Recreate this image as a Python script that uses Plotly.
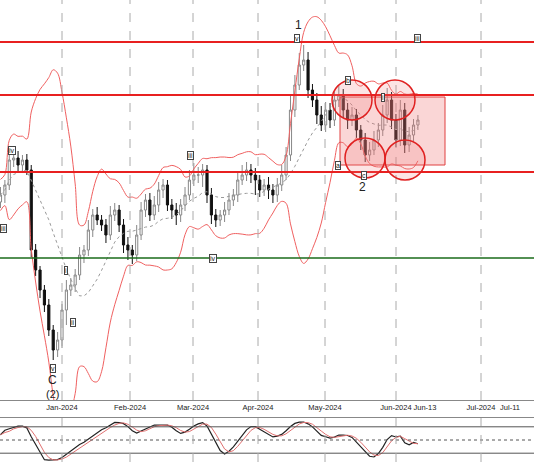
import plotly.graph_objects as go
from plotly.subplots import make_subplots
import pandas as pd
import numpy as np

start = "2023-12-04"
closes = [120.5,121.5,124,124.2,123.5,124,123,115,113,111,109.5,107,105,106,109,111,111.5,112.5,114.5,115,117,118.5,118,117.5,116.5,118.5,119,117.5,115.5,115,114.5,116.5,119,120,118.5,119.5,121,121.5,119.5,119,118.5,119.5,120.5,122,122.5,122.5,123,120.5,118.5,118,118.5,119,120,120.5,122,122.5,123,122.5,122,121,121.5,121,120.5,121.5,122.5,124.5,129,131.5,133.5,134,131,130,128.5,127.5,129,128,130,130.5,129,128,128.5,127,126,124.5,125,126,127,128.5,130,128,126,129,125.5,126.5,127.5,128]
wick_hi = [0.8,0.5,1.0,0.6,0.7,0.5,0.6,0.5,0.6,0.4,0.5,0.6,0.5,0.8,0.6,1.0,0.7,0.6,0.8,0.5,1.0,0.6,0.8,0.5,0.6,0.9,0.7,0.5,0.6,0.8,0.5,1.0,0.8,0.6,0.7,0.9,0.8,0.6,0.5,0.6,0.7,0.6,0.8,1.0,1.2,0.8,0.6,0.5,0.7,0.6,0.5,0.8,0.7,0.6,0.9,1.0,0.8,0.6,0.7,0.5,0.6,0.8,0.6,0.7,1.0,0.8,1.5,1.0,1.2,1.5,0.8,0.6,0.7,0.9,0.8,0.7,0.8,0.9,0.6,0.7,0.8,0.6,0.5,0.7,0.8,0.9,0.7,1.0,1.2,0.8,0.6,1.0,0.7,0.8,0.6,0.5]
wick_lo = [0.6,0.8,0.5,0.7,0.6,0.8,0.5,0.7,0.6,0.8,0.7,0.6,1.0,0.7,0.8,1.5,0.6,0.7,0.5,0.8,0.6,0.7,0.5,0.6,0.8,0.5,0.6,0.7,0.8,1.0,0.9,0.6,0.5,0.7,0.6,0.5,0.7,0.8,0.6,0.9,1.0,0.7,0.6,0.5,0.6,0.8,1.2,0.8,0.9,0.7,0.6,0.7,0.5,0.6,0.7,0.5,0.6,0.8,1.5,0.7,0.6,0.9,0.8,0.7,0.6,0.5,0.6,0.7,0.5,0.6,0.8,0.7,0.9,0.6,0.7,0.8,0.6,0.7,0.8,0.9,0.6,0.8,1.0,0.7,0.6,0.5,0.7,0.6,0.8,0.9,0.7,0.6,0.8,0.7,0.6,0.5]
open0 = 119.8
levels_red = [135.8, 130.5, 122.8]
level_green = 114.2
tick_text = ["Dec-2023","Jan-2024","Feb-2024","Mar-2024","Apr-2024","May-2024","Jun-2024","Jun-13","Jul-2024","Jul-11"]
tick_px = [5, 62, 130, 193, 258, 325, 396, 425, 481, 510]

n = len(closes)
dates = pd.date_range(start, periods=n, freq="2D")
c = pd.Series(closes, index=dates)
o = c.shift(1).fillna(open0)
h = np.maximum(o, c) + np.array(wick_hi)
l = np.minimum(o, c) - np.array(wick_lo)
mid = c.rolling(12, min_periods=1).mean()
sd = c.rolling(12, min_periods=2).std().bfill()
up = mid + 2.2*sd
lo = mid - 2.2*sd
ll = l.rolling(16, min_periods=1).min(); hh = h.rolling(16, min_periods=1).max()
k = (100*(c-ll)/(hh-ll)).rolling(4, min_periods=1).mean()
d = k.rolling(3, min_periods=1).mean()

def dt(px):
    return pd.Timestamp("2024-01-01") + pd.Timedelta(days=(px-62)/2.197)
def py(y):
    return 140 - y/10

tick_vals = [dt(p) for p in tick_px]

fig = make_subplots(rows=2, cols=1, shared_xaxes=True)
fig.add_trace(go.Candlestick(x=dates, open=o, high=h, low=l, close=c,
    increasing=dict(line=dict(color="#888", width=1), fillcolor="white"),
    decreasing=dict(line=dict(color="#111", width=1), fillcolor="#111"), whiskerwidth=0), 1, 1)
fig.add_trace(go.Scatter(x=dates, y=up, mode="lines", line=dict(color="#f06060", width=1, shape="spline")), 1, 1)
fig.add_trace(go.Scatter(x=dates, y=lo, mode="lines", line=dict(color="#f06060", width=1, shape="spline")), 1, 1)
fig.add_trace(go.Scatter(x=dates, y=mid, mode="lines", line=dict(color="#999", width=1, dash="dot")), 1, 1)
fig.add_trace(go.Scatter(x=dates, y=k, mode="lines", line=dict(color="#222", width=1.2)), 2, 1)
fig.add_trace(go.Scatter(x=dates, y=d, mode="lines", line=dict(color="#e07070", width=1)), 2, 1)

for lv in levels_red:
    fig.add_hline(y=lv, line=dict(color="#e82020", width=2), row=1, col=1)
fig.add_hline(y=level_green, line=dict(color="#1a6b1a", width=1.5), row=1, col=1)
for lv, ds in [(80, "solid"), (50, "dot"), (20, "solid")]:
    fig.add_hline(y=lv, line=dict(color="#555", width=1, dash=ds), row=2, col=1)
for tv in tick_vals[1:7] + tick_vals[8:9]:
    fig.add_vline(x=tv, line=dict(color="#aaa", width=1, dash="dash"))

fig.add_shape(type="rect", x0=dt(340), x1=dt(445), y0=py(165), y1=py(97), fillcolor="rgba(240,120,120,0.3)",
              line=dict(color="#e04040", width=1), row=1, col=1)
for cx, cy in [(352, 100), (395, 100), (365, 158), (405, 160)]:
    fig.add_shape(type="circle", x0=dt(cx-20), x1=dt(cx+20), y0=py(cy+20), y1=py(cy-20),
                  fillcolor="rgba(240,120,120,0.2)", line=dict(color="#e02020", width=1.5), row=1, col=1)

for txt, px, pyy, sz in [("1", 298, 25, 12), ("2", 362, 187, 12), ("C", 52, 380, 12), ("(2)", 52, 394, 11)]:
    fig.add_annotation(x=dt(px), y=py(pyy), text=txt, showarrow=False, font=dict(size=sz, color="#222"), row=1, col=1)
for txt, px, pyy in [("iv", 12, 150), ("iii", 3, 228), ("i", 66, 270), ("ii", 73, 322), ("v", 53, 368), ("iii", 190, 155),
                     ("iv", 213, 258), ("v", 297, 38), ("iii", 417, 38), ("b", 348, 80), ("i", 383, 97), ("c", 364, 175), ("a", 338, 165)]:
    fig.add_annotation(x=dt(px), y=py(pyy), text=txt, showarrow=False, font=dict(size=7, color="#222"),
                       bordercolor="#444", borderwidth=1, borderpad=0, bgcolor="white", row=1, col=1)

fig.update_layout(width=534, height=462, margin=dict(l=0, r=0, t=0, b=0, autoexpand=False), showlegend=False,
                  plot_bgcolor="white", paper_bgcolor="white", font=dict(family="Liberation Sans"),
                  yaxis=dict(domain=[1-400/462, 1]), yaxis2=dict(domain=[0, 1-418/462]))
fig.update_xaxes(range=[dt(0), dt(534)], rangeslider_visible=False, showgrid=False, automargin=False,
                 tickvals=tick_vals, ticktext=tick_text, tickfont=dict(size=7.5, color="#222"), tickangle=0,
                 ticks="", showline=True, linecolor="#888", mirror=True)
fig.update_xaxes(showticklabels=True, row=1, col=1)
fig.update_xaxes(showticklabels=False, row=2, col=1)
fig.update_yaxes(range=[100, 140], showticklabels=False, showgrid=False, automargin=False, row=1, col=1)
fig.update_yaxes(range=[0, 100], showticklabels=False, showgrid=False, automargin=False, showline=True, linecolor="#888", mirror=True, row=2, col=1)
fig.write_html("out.html", post_script="document.body.style.margin='0';", config={"displayModeBar": False})
